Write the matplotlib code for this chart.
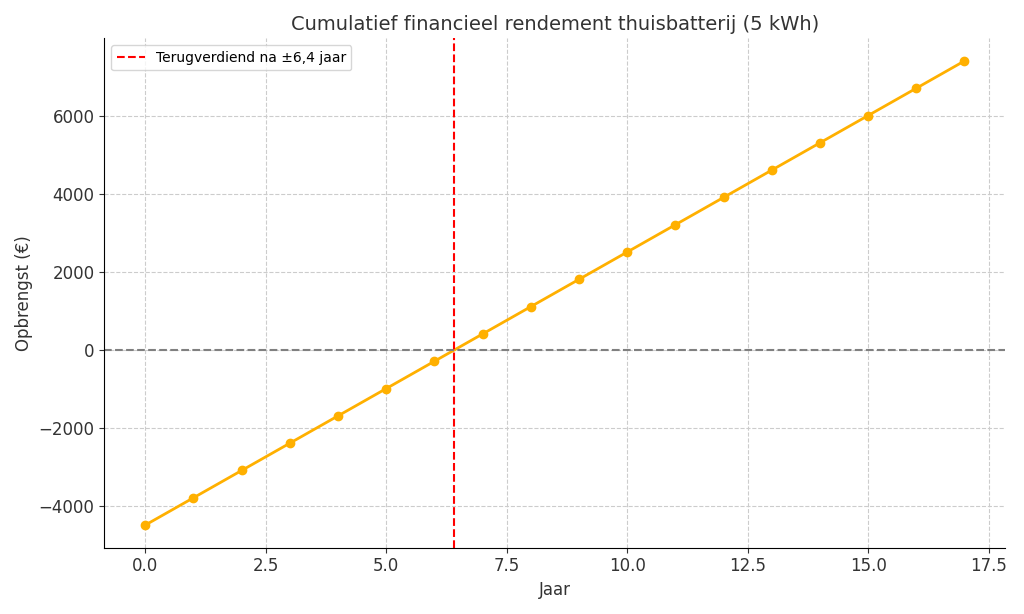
import matplotlib.pyplot as plt

jaren = list(range(0, 18))
opbrengst = [-4500, -3800, -3100, -2400, -1700, -1000, -300, 400, 1100, 1800,
             2500, 3200, 3900, 4600, 5300, 6000, 6700, 7400]
terugverdien = 6.4

fig, ax = plt.subplots(figsize=(10.24, 6.14), dpi=100)

ax.plot(jaren, opbrengst, color="#FFB000", linewidth=2, marker="o", markersize=6)
ax.axhline(0, color="gray", linestyle="--", linewidth=1.5)
ax.axvline(terugverdien, color="red", linestyle="--", linewidth=1.5,
           label="Terugverdiend na ±6,4 jaar")

ax.set_title("Cumulatief financieel rendement thuisbatterij (5 kWh)", fontsize=14, color="#333333")
ax.set_xlabel("Jaar", fontsize=12, color="#333333")
ax.set_ylabel("Opbrengst (€)", fontsize=12, color="#333333")
ax.grid(True, linestyle="--", color="#cccccc", linewidth=0.8)
ax.spines["top"].set_visible(False)
ax.spines["right"].set_visible(False)
ax.tick_params(labelsize=12, colors="#333333")
ax.set_xlim(-0.85, 17.85)
ax.set_ylim(-5080, 7980)
ax.legend(loc="upper left", fontsize=10)

plt.tight_layout()
plt.savefig("out.png")
